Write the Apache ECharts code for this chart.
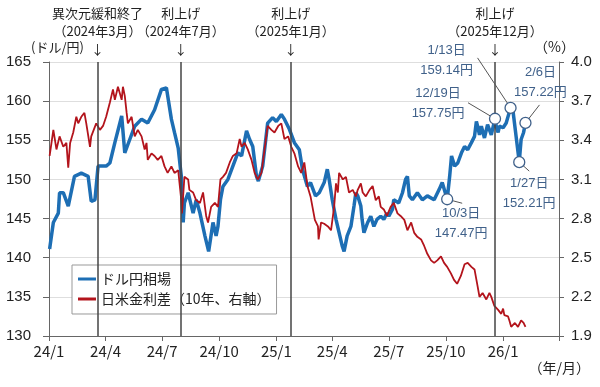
<!DOCTYPE html>
<html><head><meta charset="utf-8">
<script src="https://cdn.jsdelivr.net/npm/echarts@6/dist/echarts.min.js"></script>
<style>html,body{margin:0;padding:0;background:#fff}#c{width:600px;height:387px}</style>
</head><body><div id="c"></div>
<script>
// ---- data ----
const usdDates = ['2024-01-02','2024-01-08','2024-01-16','2024-01-18','2024-01-24','2024-02-01','2024-02-11','2024-02-22','2024-03-04','2024-03-09','2024-03-15','2024-03-20','2024-04-02','2024-04-08','2024-04-16','2024-04-27','2024-05-02','2024-05-10','2024-05-18','2024-05-29','2024-06-08','2024-06-19','2024-06-30','2024-07-08','2024-07-16','2024-07-21','2024-07-27','2024-08-01','2024-08-04','2024-08-06','2024-08-12','2024-08-20','2024-08-25','2024-08-31','2024-09-08','2024-09-14','2024-09-21','2024-09-26','2024-09-29','2024-10-03','2024-10-07','2024-10-15','2024-10-23','2024-10-31','2024-11-06','2024-11-14','2024-11-19','2024-11-24','2024-11-30','2024-12-03','2024-12-10','2024-12-18','2024-12-26','2025-01-01','2025-01-09','2025-01-14','2025-01-22','2025-01-30','2025-02-07','2025-02-12','2025-02-20','2025-02-25','2025-03-05','2025-03-11','2025-03-19','2025-03-24','2025-03-27','2025-04-01','2025-04-07','2025-04-12','2025-04-17','2025-04-20','2025-04-25','2025-05-01','2025-05-06','2025-05-09','2025-05-12','2025-05-17','2025-05-19','2025-05-22','2025-05-28','2025-06-02','2025-06-07','2025-06-12','2025-06-18','2025-06-23','2025-06-28','2025-07-01','2025-07-07','2025-07-09','2025-07-17','2025-07-23','2025-07-28','2025-07-31','2025-08-03','2025-08-08','2025-08-16','2025-08-24','2025-09-01','2025-09-12','2025-09-20','2025-09-25','2025-10-03','2025-10-07','2025-10-10','2025-10-15','2025-10-20','2025-10-26','2025-10-31','2025-11-05','2025-11-11','2025-11-16','2025-11-19','2025-11-21','2025-11-24','2025-11-27','2025-12-02','2025-12-07','2025-12-13','2025-12-19','2025-12-21','2025-12-24','2025-12-26','2026-01-01','2026-01-06','2026-01-13','2026-01-17','2026-01-20','2026-01-27','2026-01-30','2026-02-03','2026-02-06'];
const usdValues = [141.1,144.5,145.7,148.3,148.3,146.6,150.4,150.8,150.4,147.2,147.4,151.7,151.7,152.1,154.7,158.1,153.4,155.1,156.8,157.7,157.2,158.9,161.5,161.7,157.7,156.0,154.0,150.4,144.5,147.0,148.3,145.7,147.4,145.7,142.8,140.8,144.5,142.8,144.0,147.4,149.1,150.0,151.7,153.4,153.0,156.2,155.1,154.2,150.4,149.8,151.7,157.2,157.9,157.4,158.3,157.7,156.4,154.7,153.8,151.3,149.1,149.6,147.9,148.3,149.6,151.3,150.0,147.4,144.9,143.2,141.5,140.8,142.8,144.0,146.6,148.3,147.9,146.6,144.9,143.2,144.5,145.3,144.0,144.9,145.3,144.9,145.7,145.3,146.2,147.4,147.0,148.3,150.0,150.4,147.9,147.4,148.3,147.4,147.9,147.4,148.7,149.6,147.47,150.4,153.0,151.7,152.1,153.4,154.2,153.8,154.7,155.5,157.4,156.8,155.7,156.8,155.3,157.0,155.7,157.75,156.8,156.0,156.8,156.6,157.2,159.14,158.7,158.5,152.21,155.1,156.0,157.22];

const spreadDates = ['2024-01-02','2024-01-05','2024-01-08','2024-01-13','2024-01-18','2024-01-24','2024-01-29','2024-02-01','2024-02-04','2024-02-09','2024-02-14','2024-02-17','2024-02-22','2024-02-27','2024-03-01','2024-03-07','2024-03-09','2024-03-17','2024-03-23','2024-03-28','2024-04-02','2024-04-08','2024-04-13','2024-04-16','2024-04-21','2024-04-27','2024-04-29','2024-05-02','2024-05-05','2024-05-07','2024-05-13','2024-05-18','2024-05-23','2024-05-29','2024-06-03','2024-06-06','2024-06-08','2024-06-14','2024-06-19','2024-06-24','2024-06-30','2024-07-05','2024-07-10','2024-07-16','2024-07-21','2024-07-27','2024-08-01','2024-08-02','2024-08-06','2024-08-12','2024-08-14','2024-08-20','2024-08-25','2024-08-31','2024-09-05','2024-09-10','2024-09-13','2024-09-18','2024-09-24','2024-09-29','2024-10-03','2024-10-07','2024-10-12','2024-10-18','2024-10-23','2024-10-29','2024-11-03','2024-11-06','2024-11-11','2024-11-16','2024-11-22','2024-11-27','2024-12-02','2024-12-08','2024-12-13','2024-12-18','2024-12-24','2024-12-29','2025-01-04','2025-01-09','2025-01-14','2025-01-20','2025-01-25','2025-01-30','2025-02-05','2025-02-10','2025-02-15','2025-02-20','2025-02-25','2025-03-04','2025-03-09','2025-03-10','2025-03-14','2025-03-19','2025-03-25','2025-03-30','2025-04-04','2025-04-07','2025-04-10','2025-04-12','2025-04-18','2025-04-23','2025-04-28','2025-05-04','2025-05-09','2025-05-12','2025-05-17','2025-05-20','2025-05-25','2025-05-31','2025-06-05','2025-06-10','2025-06-15','2025-06-18','2025-06-23','2025-06-28','2025-07-04','2025-07-09','2025-07-15','2025-07-20','2025-07-26','2025-07-31','2025-08-06','2025-08-11','2025-08-16','2025-08-22','2025-08-27','2025-09-01','2025-09-07','2025-09-12','2025-09-17','2025-09-23','2025-09-28','2025-10-03','2025-10-09','2025-10-14','2025-10-19','2025-10-25','2025-10-31','2025-11-05','2025-11-11','2025-11-16','2025-11-21','2025-11-24','2025-11-29','2025-12-05','2025-12-10','2025-12-13','2025-12-18','2025-12-24','2025-12-29','2026-01-01','2026-01-03','2026-01-09','2026-01-11','2026-01-14','2026-01-20','2026-01-25','2026-01-30','2026-02-03','2026-02-06'];
const spreadValues = [3.28,3.38,3.48,3.33,3.43,3.35,3.38,3.19,3.38,3.46,3.58,3.53,3.58,3.61,3.53,3.35,3.43,3.53,3.48,3.51,3.58,3.69,3.79,3.71,3.81,3.71,3.81,3.74,3.61,3.53,3.58,3.43,3.48,3.43,3.33,3.38,3.25,3.30,3.28,3.25,3.28,3.20,3.15,3.20,3.15,3.17,2.94,2.84,3.12,3.10,3.02,3.00,2.94,2.92,3.00,2.82,2.77,2.89,2.92,2.89,3.10,3.12,3.15,3.23,3.28,3.30,3.41,3.35,3.38,3.33,3.25,3.15,3.10,3.15,3.33,3.51,3.48,3.46,3.51,3.53,3.41,3.43,3.35,3.30,3.20,3.15,3.23,3.05,2.97,2.79,2.74,2.64,2.77,2.76,2.74,2.71,2.89,3.07,3.00,3.15,3.10,3.12,3.00,3.02,2.97,3.02,3.07,3.00,2.97,3.02,3.05,2.94,2.97,2.89,2.87,2.82,2.89,2.92,2.84,2.82,2.79,2.71,2.77,2.69,2.66,2.64,2.59,2.53,2.48,2.46,2.48,2.51,2.46,2.43,2.38,2.33,2.30,2.36,2.45,2.46,2.43,2.41,2.28,2.20,2.23,2.18,2.23,2.20,2.13,2.10,2.07,2.11,2.06,2.05,2.02,1.97,2.00,1.97,2.02,2.00,1.97];

const xTickDates = ['2024-01-01','2024-04-01','2024-07-01','2024-10-01','2025-01-01','2025-04-01','2025-07-01','2025-10-01','2026-01-01','2026-04-01'];
const xTickLabels = ['24/1','24/4','24/7','24/10','25/1','25/4','25/7','25/10','26/1',''];
const rightTicks = [1.9,2.2,2.5,2.8,3.1,3.4,3.7,4.0];

const eventDates = ['2024-03-19','2024-07-31','2025-01-24','2025-12-19'];
const eventTitles = ['異次元緩和終了','利上げ','利上げ','利上げ'];
const eventSubs = ['（2024年3月）','（2024年7月）','（2025年1月）','（2025年12月）'];

const annDates = ['2025-10-03','2025-12-19','2026-01-13','2026-01-27','2026-02-06'];
const annValues = [147.47,157.75,159.14,152.21,157.22];
const annDays = ['10/3日','12/19日','1/13日','1/27日','2/6日'];
const annYen = ['147.47円','157.75円','159.14円','152.21円','157.22円'];

// ---- chart ----
function ts(s){const p=s.split('-').map(Number);return Date.UTC(p[0],p[1]-1,p[2]);}
const FONT = "'Liberation Sans','Noto Sans CJK JP',sans-serif";
const JFONT = "'Noto Sans CJK JP','Liberation Sans',sans-serif";
const tickTs = xTickDates.map(ts);
const labelMap = {}; tickTs.forEach((t,i)=>labelMap[t]=xTickLabels[i]);

const baseGraphic = [
  {type:'text',left:31,top:41,style:{text:'(ドル/円)',font:'13px '+JFONT,fill:'#222'}},
  {type:'text',left:534,top:40,style:{text:'（%）',font:'14px '+JFONT,fill:'#222'}},
  {type:'text',right:10,top:361,style:{text:'（年/月）',font:'14px '+JFONT,fill:'#222'}}
];

const chart = echarts.init(document.getElementById('c'), null, {renderer:'canvas'});
chart.setOption({
  animation:false,
  backgroundColor:'#fff',
  grid:{left:49,right:41,top:62,bottom:51,containLabel:false},
  legend:{
    orient:'vertical',left:72,top:265,backgroundColor:'#fff',borderColor:'#999',borderWidth:1,
    padding:[7,6,8,6],itemGap:6,itemWidth:18,itemHeight:3,
    textStyle:{fontSize:14,color:'#222',fontFamily:JFONT},
    data:[{name:'ドル円相場',icon:'rect'},{name:'日米金利差（10年、右軸）',icon:'rect'}]
  },
  xAxis:{
    type:'value',min:tickTs[0],max:tickTs[tickTs.length-1],
    axisLine:{show:true,lineStyle:{color:'#666',width:1}},
    axisTick:{show:true,customValues:tickTs,length:5,lineStyle:{color:'#666'}},
    axisLabel:{customValues:tickTs.slice(0,-1),formatter:v=>labelMap[v]||'',fontSize:15,color:'#222',margin:8,fontFamily:JFONT,hideOverlap:false},
    splitLine:{show:false}
  },
  yAxis:[
    {type:'value',min:130,max:165,interval:5,position:'left',
     axisLine:{show:true,lineStyle:{color:'#666'}},
     axisTick:{show:true,length:6,lineStyle:{color:'#666'}},
     axisLabel:{fontSize:15,color:'#222',margin:18,fontFamily:FONT},
     splitLine:{show:true,lineStyle:{color:'#dedede',width:1}}},
    {type:'value',min:1.9,max:4.0,position:'right',
     axisLine:{show:true,lineStyle:{color:'#666'}},
     axisTick:{show:true,customValues:rightTicks,length:5,lineStyle:{color:'#666'}},
     axisLabel:{customValues:rightTicks,formatter:v=>Number(v).toFixed(1),fontSize:15,color:'#222',margin:12,fontFamily:FONT},
     splitLine:{show:false}}
  ],
  series:[
    {name:'ドル円相場',type:'line',yAxisIndex:0,showSymbol:false,symbol:'none',
     data:usdDates.map((d,i)=>[ts(d),usdValues[i]]),
     lineStyle:{color:'#1d6eb4',width:3.5},itemStyle:{color:'#1d6eb4'},
     markLine:{silent:true,symbol:['none','none'],animation:false,
       lineStyle:{color:'#444',width:1.5,type:'solid'},
       label:{show:true,position:'end',distance:4,color:'#222',fontSize:13,lineHeight:18,fontFamily:JFONT,align:'center'},
       data:eventDates.map((d,i)=>({xAxis:ts(d),label:{formatter:eventTitles[i]+'\n'+eventSubs[i]+'\n↓'}}))
     }},
    {name:'日米金利差（10年、右軸）',type:'line',yAxisIndex:1,showSymbol:false,symbol:'none',
     data:spreadDates.map((d,i)=>[ts(d),spreadValues[i]]),
     lineStyle:{color:'#b3141c',width:1.8},itemStyle:{color:'#b3141c'}}
  ],
  graphic:baseGraphic
});

// annotation callouts (layout offsets relative to data point)
const annLayout = [
  {tx:14,ty:24,lx:15,ly:4},
  {tx:-57,ty:-15,lx:-27,ly:-16},
  {tx:-64,ty:-47,lx:-33,ly:-50},
  {tx:10,ty:31,lx:10,ly:9},
  {tx:15,ty:-40,lx:14,ly:-18}
];
const g = [];
annDates.forEach((d,i)=>{
  const p = chart.convertToPixel({xAxisIndex:0,yAxisIndex:0},[ts(d),annValues[i]]);
  const L = annLayout[i];
  g.push({type:'line',z:10,shape:{x1:p[0],y1:p[1],x2:p[0]+L.lx,y2:p[1]+L.ly},style:{stroke:'#555',lineWidth:1}});
  g.push({type:'circle',z:11,shape:{cx:p[0],cy:p[1],r:5.5},style:{fill:'#fff',stroke:'#40618a',lineWidth:1.3}});
  g.push({type:'text',z:11,x:p[0]+L.tx,y:p[1]+L.ty,style:{text:annDays[i]+'\n'+annYen[i],align:'center',verticalAlign:'middle',font:'13px '+FONT,fill:'#40618a',lineHeight:20}});
});
chart.setOption({graphic:baseGraphic.concat(g)});
</script></body></html>
